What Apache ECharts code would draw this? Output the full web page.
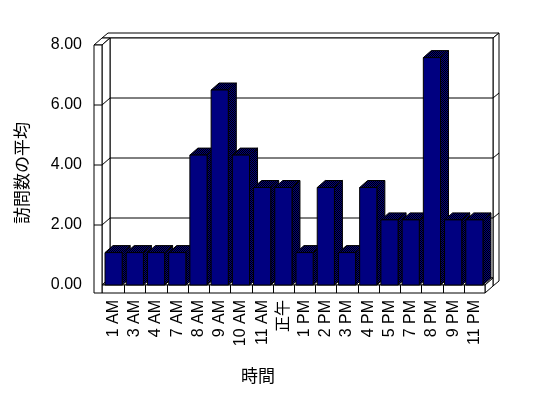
<!DOCTYPE html>
<html>
<head>
<meta charset="utf-8">
<script src="https://cdn.jsdelivr.net/npm/echarts@6/dist/echarts.min.js"></script>
<style>
html,body{margin:0;padding:0;background:#fff;}
#chart{width:548px;height:398px;}
</style>
</head>
<body>
<div id="chart"></div>
<script>
const categories = ['1 AM','3 AM','4 AM','7 AM','8 AM','9 AM','10 AM','11 AM','正午','1 PM','2 PM','3 PM','4 PM','5 PM','7 PM','8 PM','9 PM','11 PM'];
const visits = [1.08,1.08,1.08,1.08,4.33,6.5,4.33,3.25,3.25,1.08,3.25,1.08,3.25,2.17,2.17,7.58,2.17,2.17];
const yTicks = [0,2,4,6,8];
const yTitle = '訪問数の平均';
const xTitle = '時間';

const FONT = '"Liberation Sans", Arial, "Noto Sans CJK JP", sans-serif';
const CJK = '"Noto Sans CJK JP", sans-serif';

function makePattern(a, b) {
  const c = document.createElement('canvas');
  c.width = 2; c.height = 2;
  const ctx = c.getContext('2d');
  ctx.fillStyle = a; ctx.fillRect(0,0,2,2);
  ctx.fillStyle = b; ctx.fillRect(0,0,1,1); ctx.fillRect(1,1,1,1);
  return {image: c, repeat: 'repeat'};
}
const topFill = makePattern('#000080', '#000000');
const sideFill = makePattern('#000080', '#000000');

const D = {x: 8, y: -7};   // depth of floor / bars
const T = {x: 6, y: -5};   // back wall thickness
const L = 8;               // left wall thickness
const F = 8;               // floor thickness

const chart = echarts.init(document.getElementById('chart'), null, {renderer: 'canvas'});

function poly(points, fill, z2) {
  return {type: 'polygon', shape: {points: points}, z2: z2 || 0,
    style: {fill: fill, stroke: '#000', lineWidth: 1}};
}
function line(x1, y1, x2, y2, z2) {
  return {type: 'line', shape: {x1, y1, x2, y2}, z2: z2 || 1,
    style: {stroke: '#000', lineWidth: 1}};
}

function renderFrame(params, api) {
  const cs = params.coordSys;
  const gx = cs.x, gy = cs.y, gw = cs.width, gh = cs.height;
  const xl = gx - 1;            // inner edge of left wall (front)
  const xo = xl - L;            // outer edge of left wall (front)
  const xr = gx + gw;           // right end of floor (front)
  const yb = gy + gh;           // floor top (front)
  const ch = [];
  // back wall thickness (top + right strips)
  ch.push(poly([[xo + D.x, gy + D.y],[xo + D.x + T.x, gy + D.y + T.y],[xr + D.x + T.x, gy + D.y + T.y],[xr + D.x, gy + D.y]], '#fff'));
  ch.push(poly([[xr + D.x, gy + D.y],[xr + D.x + T.x, gy + D.y + T.y],[xr + D.x + T.x, yb + F + D.y + T.y],[xr + D.x, yb + F + D.y]], '#fff'));
  // back plane
  ch.push(poly([[xl + D.x, gy + D.y],[xr + D.x, gy + D.y],[xr + D.x, yb + D.y],[xl + D.x, yb + D.y]], '#fff'));
  // left wall top and inner face
  ch.push(poly([[xo, gy],[xl, gy],[xl + D.x, gy + D.y],[xo + D.x, gy + D.y]], '#fff'));
  ch.push(poly([[xl, gy],[xl + D.x, gy + D.y],[xl + D.x, yb + D.y],[xl, yb]], '#fff'));
  // floor top, right side, front
  ch.push(poly([[xl, yb],[xr, yb],[xr + D.x, yb + D.y],[xl + D.x, yb + D.y]], '#fff'));
  ch.push(poly([[xr, yb],[xr + D.x, yb + D.y],[xr + D.x, yb + F + D.y],[xr, yb + F]], '#fff'));
  ch.push(poly([[xl, yb],[xr, yb],[xr, yb + F],[xl, yb + F]], '#fff'));
  // left wall front
  ch.push(poly([[xo, gy],[xl, gy],[xl, yb + F],[xo, yb + F]], '#fff'));
  // gridlines
  for (let i = 1; i < yTicks.length - 1; i++) {
    const y = api.coord([0, yTicks[i]])[1];
    ch.push(line(xl + D.x, y + D.y, xr + D.x, y + D.y));
    ch.push(line(xl, y, xl + D.x, y + D.y));
    ch.push(line(xo, y, xl, y));
    ch.push(line(xr + D.x, y + D.y, xr + D.x + T.x, y + D.y + T.y));
  }
  // category ticks on floor front
  const bw = gw / categories.length;
  for (let k = 1; k < categories.length; k++) {
    const x = Math.round(gx + k * bw) + 0.5;
    ch.push(line(x, yb, x, yb + F));
  }
  return {type: 'group', children: ch};
}

function renderBar(params, api) {
  const idx = api.value(0);
  const v = api.value(1);
  const p0 = api.coord([idx, 0]);
  const p1 = api.coord([idx, v]);
  const bw = api.size([1, 0])[0];
  const x0 = p0[0] - bw / 2 + 2;
  const x1 = x0 + bw * 0.81;
  const y0 = p0[1], y1 = p1[1];
  return {type: 'group', children: [
    {type: 'polygon', shape: {points: [[x1, y1],[x1 + D.x, y1 + D.y],[x1 + D.x, y0 + D.y],[x1, y0]]},
      style: {fill: sideFill, stroke: '#000', lineWidth: 1}},
    {type: 'polygon', shape: {points: [[x0, y1],[x1, y1],[x1 + D.x, y1 + D.y],[x0 + D.x, y1 + D.y]]},
      style: {fill: topFill, stroke: '#000', lineWidth: 1}},
    {type: 'rect', shape: {x: x0, y: y1, width: x1 - x0, height: y0 - y1},
      style: {fill: '#000080', stroke: '#000', lineWidth: 1}}
  ]};
}

chart.setOption({
  animation: false,
  backgroundColor: '#fff',
  grid: {left: 103, top: 45, width: 382, height: 240, containLabel: false},
  xAxis: {
    type: 'category', data: categories, boundaryGap: true,
    axisLine: {show: false}, axisTick: {show: false},
    axisLabel: {interval: 0, rotate: 90, margin: 15, fontSize: 16, color: '#000', fontFamily: FONT}
  },
  yAxis: {
    type: 'value', min: yTicks[0], max: yTicks[yTicks.length - 1], interval: yTicks[1] - yTicks[0],
    axisLine: {show: false}, axisTick: {show: false}, splitLine: {show: false},
    axisLabel: {margin: 21, fontSize: 16, color: '#000', fontFamily: FONT,
      formatter: v => v.toFixed(2)}
  },
  graphic: [
    {type: 'text', x: 22, y: 173, rotation: Math.PI / 2,
      style: {text: yTitle, fontSize: 17, fontFamily: CJK, fill: '#000', align: 'center', verticalAlign: 'middle'}},
    {type: 'text', x: 258, y: 376,
      style: {text: xTitle, fontSize: 17, fontFamily: CJK, fill: '#000', align: 'center', verticalAlign: 'middle'}}
  ],
  series: [
    {type: 'custom', renderItem: renderFrame, data: [[0, 0]], z: 1, silent: true, clip: false},
    {type: 'custom', renderItem: renderBar, data: visits.map((v, i) => [i, v]), z: 2, silent: true, clip: false}
  ]
});
</script>
</body>
</html>
